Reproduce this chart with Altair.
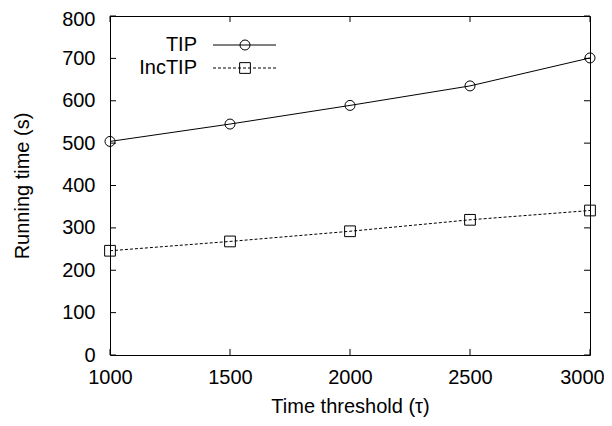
import altair as alt
import pandas as pd

# ---- data ----
thresholds = [1000, 1500, 2000, 2500, 3000]
tip_times = [504, 545, 589, 635, 701]
inctip_times = [246, 268, 292, 319, 341]
series_names = ["TIP", "IncTIP"]
x_tick_values = [1000, 1500, 2000, 2500, 3000]
y_tick_values = [0, 100, 200, 300, 400, 500, 600, 700, 800]

W, H = 480, 339
FONT = "Liberation Sans"
FS = 20
TICK = 6
DASH = [3, 2]

df = pd.DataFrame({
    "threshold": thresholds * 2,
    "time": tip_times + inctip_times,
    "series": [series_names[0]] * len(thresholds) + [series_names[1]] * len(thresholds),
})
xt = pd.DataFrame({"threshold": x_tick_values})
yt = pd.DataFrame({"time": y_tick_values})
leg = pd.DataFrame({"label": series_names})

xscale = alt.Scale(domain=[1000, 3000], nice=False, zero=False)
yscale = alt.Scale(domain=[0, 800], nice=False, zero=True)

xaxis = alt.Axis(
    title="Time threshold (τ)", values=x_tick_values, format="d",
    labelFlush=False, grid=False, domain=False, ticks=False, tickSize=0,
    labelPadding=12, labelFont=FONT, labelFontSize=FS, labelColor="black",
    labelOffset={"condition": {"test": "datum.value >= 3000", "value": -8}, "value": 0},
    titleFont=FONT, titleFontSize=FS, titleFontWeight="normal", titleColor="black",
    titleY=51, titleBaseline="middle", titleX=W / 2,
)
yaxis = alt.Axis(
    title="Running time (s)", values=y_tick_values, format="d",
    labelFlush=False, grid=False, domain=False, ticks=False, tickSize=0,
    labelPadding=15, labelFont=FONT, labelFontSize=FS, labelColor="black",
    labelOffset={"condition": {"test": "datum.value >= 800", "value": 3}, "value": 0},
    titleFont=FONT, titleFontSize=FS, titleFontWeight="normal", titleColor="black",
    titleX=-88, titleY=H / 2, titleBaseline="middle", titleAngle=-90,
)

X = alt.X("threshold:Q", scale=xscale, axis=xaxis)
Y = alt.Y("time:Q", scale=yscale, axis=yaxis)

base = alt.Chart(df)

tip_line = base.transform_filter(alt.datum.series == "TIP").mark_line(
    color="black", strokeWidth=1
).encode(x=X, y=Y)
tip_pts = base.transform_filter(alt.datum.series == "TIP").mark_point(
    shape="circle", size=100, filled=False, color="black", strokeWidth=1, opacity=1
).encode(x=X, y=Y)
inc_line = base.transform_filter(alt.datum.series == "IncTIP").mark_line(
    color="black", strokeWidth=1, strokeDash=DASH
).encode(x=X, y=Y)
inc_pts = base.transform_filter(alt.datum.series == "IncTIP").mark_point(
    shape="square", size=115, filled=False, color="black", strokeWidth=1, opacity=1
).encode(x=X, y=Y)

# inward ticks (gnuplot style) on all four sides
yt_left = alt.Chart(yt).mark_rule(color="black", strokeWidth=1).encode(
    y=Y, x=alt.value(0), x2=alt.value(TICK))
yt_right = alt.Chart(yt).mark_rule(color="black", strokeWidth=1).encode(
    y=Y, x=alt.value(W - TICK), x2=alt.value(W))
xt_bottom = alt.Chart(xt).mark_rule(color="black", strokeWidth=1).encode(
    x=X, y=alt.value(H - TICK), y2=alt.value(H))
xt_top = alt.Chart(xt).mark_rule(color="black", strokeWidth=1).encode(
    x=X, y=alt.value(0), y2=alt.value(TICK))

# legend (text, then line sample with marker), gnuplot style
def legend_entry(name, ypos, dash, shape, size):
    d = alt.Chart(leg).transform_filter(alt.datum.label == name)
    txt = d.mark_text(font=FONT, fontSize=FS, align="right", baseline="middle", color="black").encode(
        text="label:N", x=alt.value(87), y=alt.value(ypos))
    rule_kw = dict(color="black", strokeWidth=1)
    if dash:
        rule_kw["strokeDash"] = dash
    ln = d.mark_rule(**rule_kw).encode(x=alt.value(103), x2=alt.value(166), y=alt.value(ypos))
    sym = d.mark_point(shape=shape, size=size, filled=False, color="black", strokeWidth=1, opacity=1).encode(
        x=alt.value(135), y=alt.value(ypos))
    return txt + ln + sym

leg_tip = legend_entry("TIP", 29, None, "circle", 100)
leg_inc = legend_entry("IncTIP", 52, DASH, "square", 115)

chart = alt.layer(
    tip_line, inc_line, tip_pts, inc_pts,
    yt_left, yt_right, xt_bottom, xt_top,
    leg_tip, leg_inc,
).properties(
    width=W, height=H,
    padding={"left": 102, "top": 8, "right": 14, "bottom": 62},
    autosize=alt.AutoSizeParams(type="none"),
    background="white",
).configure_view(stroke="black", strokeWidth=1)

chart.save("out.html", embed_options={"renderer": "svg", "actions": False})
